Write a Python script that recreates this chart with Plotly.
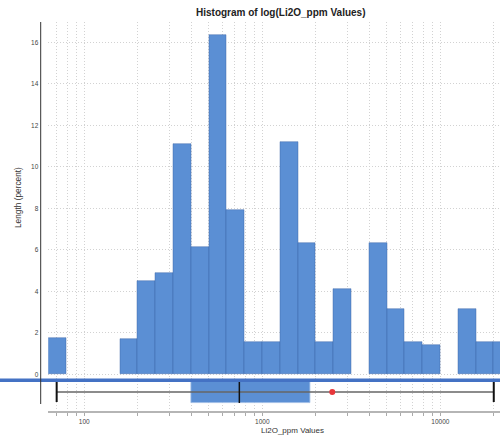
import plotly.graph_objects as go
import math

# ---- data (log10 space) ----
bin_left_log10 = [1.8, 2.2, 2.3, 2.4, 2.5, 2.6, 2.7, 2.8, 2.9, 3.0, 3.1, 3.2, 3.3, 3.4,
                  3.6, 3.7, 3.8, 3.9, 4.1, 4.2, 4.3]
length_percent = [1.76, 1.70, 4.49, 4.88, 11.12, 6.15, 16.36, 7.93, 1.57, 1.57, 11.2, 6.35, 1.57, 4.13,
                  6.35, 3.17, 1.57, 1.41, 3.17, 1.57, 1.57]
bin_width_log10 = 0.1

box_low_whisker = 1.845
box_q1 = 2.60
box_median = 2.871
box_q3 = 3.272
box_high_whisker = 4.30
box_mean = 3.393

decade_ticks = [100, 1000, 10000]

minor_vals = [m * 10 ** e for e in range(1, 5) for m in range(1, 10)]
minor_log = [math.log10(v) for v in minor_vals]
minor_text = [str(v) if v in decade_ticks else "" for v in minor_vals]

W, H = 500, 438
def py(px):
    return (H - px) / H

BAR_COLOR = "#5b8fd4"
XR = [1.798, 4.335]

fig = go.Figure()

fig.add_trace(go.Bar(
    x=[b + bin_width_log10 / 2 for b in bin_left_log10], y=length_percent,
    width=bin_width_log10,
    marker=dict(color=BAR_COLOR, line=dict(color="rgba(60,100,165,0.75)", width=0.6)),
    xaxis="x", yaxis="y", showlegend=False,
))

# whisker line
fig.add_trace(go.Scatter(
    x=[box_low_whisker, box_high_whisker], y=[0, 0], mode="lines",
    line=dict(color="#666666", width=1.5), xaxis="x2", yaxis="y2", showlegend=False,
))
# caps
fig.add_trace(go.Scatter(
    x=[box_low_whisker, box_low_whisker, None, box_high_whisker, box_high_whisker],
    y=[-0.5, 0.5, None, -0.5, 0.5], mode="lines",
    line=dict(color="#111111", width=2), xaxis="x2", yaxis="y2", showlegend=False,
))
# box
fig.add_trace(go.Bar(
    y=[0], x=[box_q3 - box_q1], base=[box_q1], orientation="h", width=1.1,
    marker=dict(color=BAR_COLOR, line=dict(color="#9dbde6", width=0.8)),
    xaxis="x2", yaxis="y2", showlegend=False,
))
# median
fig.add_trace(go.Scatter(
    x=[box_median, box_median], y=[-0.55, 0.55], mode="lines",
    line=dict(color="#111111", width=1.5), xaxis="x2", yaxis="y2", showlegend=False,
))
# mean
fig.add_trace(go.Scatter(
    x=[box_mean], y=[0], mode="markers",
    marker=dict(color="#e8363a", size=6), xaxis="x2", yaxis="y2", showlegend=False,
))

grid = dict(gridcolor="#d2d2d2", griddash="1px,2px", gridwidth=1)

fig.update_layout(
    width=W, height=H, margin=dict(l=0, r=0, t=0, b=0),
    paper_bgcolor="white", plot_bgcolor="white",
    font=dict(family="Liberation Sans, Arial, sans-serif", color="#333"),
    bargap=0,
    xaxis=dict(domain=[48.3 / W, 1], range=XR, tickvals=minor_log, ticktext=minor_text,
               showticklabels=False, ticks="", showline=False, zeroline=False, **grid),
    yaxis=dict(domain=[py(377), py(22)], range=[-0.13, 16.98], tickvals=list(range(0, 17, 2)),
               ticks="", ticklabelstandoff=9, tickfont=dict(size=6.5, color="#444"),
               showline=False, zeroline=False, **grid),
    xaxis2=dict(domain=[48.3 / W, 1], range=XR, tickvals=minor_log, ticktext=minor_text,
                anchor="y2", showline=True, linecolor="#b5b5b5", linewidth=1.5,
                ticks="outside", ticklen=3, tickcolor="#aaaaaa",
                tickfont=dict(size=6.5, color="#444"), zeroline=False, **grid),
    yaxis2=dict(domain=[py(411), py(378)], range=[-0.95, 0.7], anchor="x2",
                showticklabels=False, showgrid=False, zeroline=False, ticks=""),
    shapes=[
        dict(type="line", xref="paper", yref="paper", x0=0, x1=1, y0=py(380.3), y1=py(380.3),
             line=dict(color="#4472c4", width=3.5), layer="above"),
        dict(type="line", xref="paper", yref="paper", x0=40.7 / W, x1=40.7 / W,
             y0=py(404), y1=py(22), line=dict(color="#333333", width=1), layer="above"),
    ],
    annotations=[
        dict(text="<b>Histogram of log(Li2O_ppm Values)</b>", xref="paper", yref="paper",
             x=280 / W, y=py(13), showarrow=False, font=dict(size=10, color="#222"),
             xanchor="center", yanchor="middle"),
        dict(text="Li2O_ppm Values", xref="paper", yref="paper",
             x=292 / W, y=py(430.5), showarrow=False, font=dict(size=8, color="#333"),
             xanchor="center", yanchor="middle"),
        dict(text="Length (percent)", xref="paper", yref="paper", textangle=-90,
             x=18 / W, y=py(198), showarrow=False, font=dict(size=8.3, color="#333"),
             xanchor="center", yanchor="middle"),
    ],
)

fig.write_html("out.html", config={"displayModeBar": False},
               post_script="document.body.style.margin='0px';document.body.style.overflow='hidden';")
